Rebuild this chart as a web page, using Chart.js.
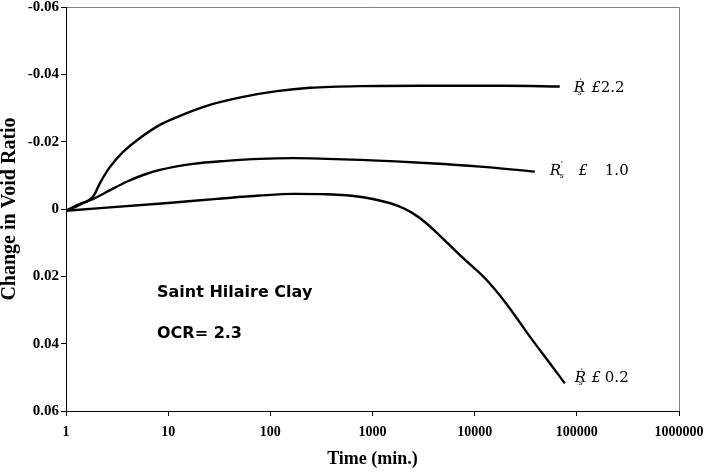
<!DOCTYPE html>
<html>
<head>
<meta charset="utf-8">
<script src="https://cdn.jsdelivr.net/npm/chart.js@4/dist/chart.umd.min.js"></script>
<style>
  html, body { margin: 0; padding: 0; background: #fff; }
  #wrap { width: 704px; height: 472px; }
</style>
</head>
<body>
<div id="wrap"><canvas id="c" width="704" height="472"></canvas></div>
<script>
// ---- data ----
const seriesNames = ["R's ≤ 2.2", "R's ≤ 1.0", "R's ≤ 0.2"];
const curveLabelValues = ["2.2", "1.0", "0.2"];

const time22 = [1, 1.37, 1.85, 2.15, 2.7, 3.6, 5.3, 8.3, 12.2, 25.6, 54, 116, 244, 750, 3000, 20000, 68000];
const void22 = [0.0005, -0.0013, -0.0038, -0.0077, -0.0125, -0.0169, -0.0211, -0.0250, -0.0273, -0.0309, -0.0333, -0.0350, -0.0360, -0.0365, -0.0366, -0.0366, -0.0364];

const time10 = [1, 1.37, 1.85, 2.7, 3.93, 5.7, 8.3, 17.6, 37.4, 79, 168, 356, 753, 3650, 11300, 38800];
const void10 = [0.0005, -0.0015, -0.0030, -0.0056, -0.0081, -0.0101, -0.0116, -0.0134, -0.0143, -0.0149, -0.0151, -0.0149, -0.0146, -0.0136, -0.0126, -0.0111];

const time02 = [1, 10, 30, 79, 168, 356, 811, 1722, 2400, 3300, 4240, 7720, 13100, 20500, 34700, 54400, 76300];
const void02 = [0.0005, -0.0018, -0.0030, -0.0040, -0.0045, -0.0044, -0.0035, -0.0011, 0.0010, 0.0040, 0.0070, 0.0146, 0.0211, 0.0282, 0.0379, 0.0458, 0.0518];

const xTickValues = [1, 10, 100, 1000, 10000, 100000, 1000000];
const xTickLabels = ["1", "10", "100", "1000", "10000", "100000", "1000000"];
const yTickValues = [-0.06, -0.04, -0.02, 0, 0.02, 0.04, 0.06];
const yTickLabels = ["-0.06", "-0.04", "-0.02", "0", "0.02", "0.04", "0.06"];

const noteLines = ["Saint Hilaire Clay", "OCR= 2.3"];

// ---- build ----
function pts(t, v) { return t.map((x, i) => ({ x: x, y: v[i] })); }

const lineStyle = {
  borderColor: '#000', borderWidth: 2.4, pointRadius: 0, fill: false,
  cubicInterpolationMode: 'monotone'
};

// curve label placement (relative to each curve's last point)
const labelOffsets = [
  { r: 14, dy: 5.5, sym: 32, num: 41 },
  { r: 15, dy: 3.5, sym: 44, num: 70 },
  { r: 10, dy: -1, sym: 27, num: 40 }
];

const overlay = {
  id: 'overlay',
  beforeDraw(chart) {
    const { ctx, chartArea: a } = chart;
    ctx.save();
    ctx.strokeStyle = '#808080';
    ctx.lineWidth = 1;
    ctx.beginPath();
    ctx.moveTo(a.left, a.top + 0.5);
    ctx.lineTo(a.right + 0.5, a.top + 0.5);
    ctx.lineTo(a.right + 0.5, a.bottom);
    ctx.stroke();
    ctx.restore();
  },
  afterDraw(chart) {
    const { ctx, chartArea: a } = chart;
    ctx.save();
    ctx.fillStyle = '#000';
    ctx.textBaseline = 'alphabetic';
    ctx.textAlign = 'left';
    // notes
    ctx.font = "bold 16px 'DejaVu Sans'";
    ctx.fillText(noteLines[0], a.left + 91, a.top + 289.5);
    ctx.fillText(noteLines[1], a.left + 91, a.top + 330.5);
    // curve labels
    chart.data.datasets.forEach((ds, i) => {
      const meta = chart.getDatasetMeta(i);
      const p = meta.data[meta.data.length - 1];
      const o = labelOffsets[i];
      const bx = p.x + o.r, by = p.y + o.dy;
      ctx.font = "italic 15px 'DejaVu Serif'";
      ctx.fillText('R', bx, by);
      ctx.font = "8px 'DejaVu Serif'";
      ctx.fillText("'", bx + (i === 1 ? 11 : 6), by - 9);
      ctx.font = "italic 8px 'DejaVu Serif'";
      ctx.fillText('s', bx + (i === 1 ? 10 : 4), by + 3);
      ctx.font = "italic 14px 'DejaVu Serif'";
      ctx.fillText('£', p.x + o.sym, by);
      ctx.font = "15px 'DejaVu Serif'";
      ctx.fillText(curveLabelValues[i], p.x + o.num, by);
    });
    ctx.restore();
  }
};

new Chart(document.getElementById('c'), {
  type: 'line',
  data: {
    datasets: [
      Object.assign({ label: seriesNames[0], data: pts(time22, void22) }, lineStyle),
      Object.assign({ label: seriesNames[1], data: pts(time10, void10) }, lineStyle),
      Object.assign({ label: seriesNames[2], data: pts(time02, void02) }, lineStyle)
    ]
  },
  options: {
    responsive: false,
    animation: false,
    events: [],
    layout: { padding: { top: 7, right: 25, left: 0, bottom: 0 } },
    plugins: { legend: { display: false }, tooltip: { enabled: false } },
    scales: {
      x: {
        type: 'logarithmic',
        min: 1, max: 1000000,
        afterBuildTicks(s) { s.ticks = xTickValues.map(v => ({ value: v })); },
        afterFit(s) { s.height = 61; s.paddingLeft = 0; s.paddingRight = 0; },
        grid: { display: true, drawOnChartArea: false, drawTicks: true, tickLength: 5, color: '#000', lineWidth: 1 },
        border: { display: true, color: '#000', width: 1 },
        ticks: {
          autoSkip: false, maxRotation: 0, minRotation: 0, padding: 8, color: '#000',
          font: { family: "'Liberation Serif'", size: 14, weight: 'bold' },
          callback(v) { const i = xTickValues.indexOf(v); return i >= 0 ? xTickLabels[i] : ''; }
        },
        title: {
          display: true, text: 'Time (min.)', color: '#000',
          font: { family: "'Liberation Serif'", size: 18, weight: 'bold', lineHeight: 1.2 },
          padding: { top: 0, bottom: 2 }
        }
      },
      y: {
        type: 'linear',
        reverse: true,
        min: -0.06, max: 0.06,
        afterBuildTicks(s) { s.ticks = yTickValues.map(v => ({ value: v })); },
        afterFit(s) { s.width = 66; s.paddingTop = 0; s.paddingBottom = 0; },
        grid: { display: true, drawOnChartArea: false, drawTicks: true, tickLength: 5, color: '#000', lineWidth: 1 },
        border: { display: true, color: '#000', width: 1 },
        ticks: {
          autoSkip: false, padding: 2, color: '#000',
          font: { family: "'Liberation Serif'", size: 15, weight: 'bold' },
          callback(v) {
            const i = yTickValues.findIndex(t => Math.abs(t - v) < 1e-9);
            return i >= 0 ? yTickLabels[i] : '';
          }
        },
        title: {
          display: true, text: 'Change in Void Ratio', color: '#000',
          font: { family: "'Liberation Serif'", size: 20, weight: 'bold', lineHeight: 1 },
          padding: { top: 0, bottom: 0 }
        }
      }
    }
  },
  plugins: [overlay]
});
</script>
</body>
</html>
